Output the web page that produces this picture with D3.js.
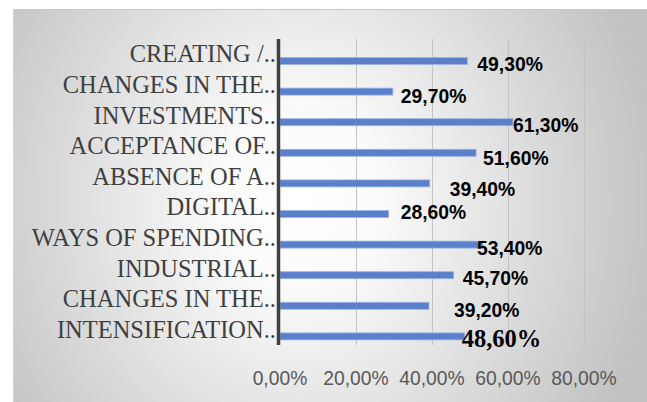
<!DOCTYPE html>
<html>
<head>
<meta charset="utf-8">
<script src="https://cdn.jsdelivr.net/npm/d3@7"></script>
<style>
  html, body { margin: 0; padding: 0; background: #ffffff; }
  svg { display: block; }
</style>
</head>
<body>
<svg id="chart" width="647" height="402"></svg>
<script>
// Survey shares per factor (top to bottom)
const categories = [
  "CREATING /..",
  "CHANGES IN THE..",
  "INVESTMENTS..",
  "ACCEPTANCE OF..",
  "ABSENCE OF A..",
  "DIGITAL..",
  "WAYS OF SPENDING..",
  "INDUSTRIAL..",
  "CHANGES IN THE..",
  "INTENSIFICATION.."
];
const values = [0.493, 0.297, 0.613, 0.516, 0.394, 0.286, 0.534, 0.457, 0.392, 0.486];
const valueLabels = ["49,30%", "29,70%", "61,30%", "51,60%", "39,40%", "28,60%", "53,40%", "45,70%", "39,20%", "48,60%"];
const tickValues = [0, 0.2, 0.4, 0.6, 0.8];
const tickLabels = ["0,00%", "20,00%", "40,00%", "60,00%", "80,00%"];

// Hand-placed data label nudges (dx from bar end, dy from bar centre)
const labelNudge = [
  [10, 3], [8, 4], [0, 3], [7, 5], [20, 6],
  [12, -2], [-6, 3], [9, 3], [25, 4], [-3, 4]
];

const svg = d3.select("#chart");
const W = 647, H = 402;

// Chart area background
const defs = svg.append("defs");
const grad = defs.append("radialGradient")
  .attr("id", "bg")
  .attr("gradientUnits", "userSpaceOnUse")
  .attr("cx", 300).attr("cy", 200).attr("r", 360)
  .attr("gradientTransform", "translate(300,200) scale(1,1.1) translate(-300,-200)");
grad.append("stop").attr("offset", "0%").attr("stop-color", "#ffffff");
grad.append("stop").attr("offset", "22%").attr("stop-color", "#fbfbfb");
grad.append("stop").attr("offset", "100%").attr("stop-color", "#c2c2c2");

svg.append("rect")
  .attr("x", 13).attr("y", 9)
  .attr("width", W - 13).attr("height", H - 9)
  .attr("fill", "url(#bg)");
svg.append("line")
  .attr("x1", 13).attr("x2", W).attr("y1", 9.5).attr("y2", 9.5)
  .attr("stroke", "#c9c9c9").attr("stroke-width", 1);
svg.append("line")
  .attr("x1", 13.5).attr("x2", 13.5).attr("y1", 9).attr("y2", H)
  .attr("stroke", "#d4d4d4").attr("stroke-width", 1);

const plot = { left: 280, right: 584, top: 39, bottom: 345 };

const x = d3.scaleLinear().domain([0, 0.8]).range([plot.left, plot.right]);
const y = d3.scaleBand().domain(d3.range(categories.length))
  .range([plot.top, plot.bottom]).padding(0);

const barH = 7;
const barShift = 6.7; // bars sit slightly below the label centre

// Vertical gridlines
svg.append("g")
  .selectAll("line")
  .data(tickValues.slice(1))
  .join("line")
  .attr("x1", d => x(d) + 0.5).attr("x2", d => x(d) + 0.5)
  .attr("y1", plot.top).attr("y2", plot.bottom)
  .attr("stroke", "#c3c3c3").attr("stroke-width", 1);

// Bars
svg.append("g")
  .selectAll("rect")
  .data(values)
  .join("rect")
  .attr("x", x(0))
  .attr("y", (d, i) => y(i) + y.bandwidth() / 2 + barShift - barH / 2)
  .attr("width", d => x(d) - x(0))
  .attr("height", barH)
  .attr("fill", "#5a7fcb")
  .attr("stroke", "#9db4e0")
  .attr("stroke-width", 0.8);

// Category axis line
svg.append("line")
  .attr("x1", plot.left - 1.5).attr("x2", plot.left - 1.5)
  .attr("y1", plot.top).attr("y2", plot.bottom)
  .attr("stroke", "#404040").attr("stroke-width", 3.5);

// Category labels
svg.append("g")
  .selectAll("text")
  .data(categories)
  .join("text")
  .attr("x", plot.left - 4)
  .attr("y", (d, i) => y(i) + y.bandwidth() / 2 + 8)
  .attr("text-anchor", "end")
  .attr("font-family", "'Liberation Serif', 'Times New Roman', serif")
  .attr("font-size", 24.5)
  .attr("fill", "#3f3f3f")
  .text(d => d);

// Value axis tick labels (narrow sans, condensed horizontally)
svg.append("g")
  .selectAll("text")
  .data(tickValues)
  .join("text")
  .attr("transform", d => `translate(${x(d)},385) scale(0.92,1)`)
  .attr("text-anchor", "middle")
  .attr("font-family", "'Liberation Sans', Arial, sans-serif")
  .attr("font-size", 21)
  .attr("fill", "#595959")
  .text((d, i) => tickLabels[i]);

// Data labels
svg.append("g")
  .selectAll("text")
  .data(values)
  .join("text")
  .attr("transform", (d, i) => {
    const tx = x(d) + labelNudge[i][0];
    const ty = y(i) + y.bandwidth() / 2 + barShift + labelNudge[i][1] + 7;
    return i === values.length - 1
      ? `translate(${tx},${ty})`
      : `translate(${tx},${ty}) scale(0.92,1)`;
  })
  .attr("font-family", (d, i) => i === values.length - 1
    ? "'Liberation Serif', 'Times New Roman', serif"
    : "'Liberation Sans', Arial, sans-serif")
  .attr("font-size", (d, i) => i === values.length - 1 ? 24.5 : 21)
  .attr("font-weight", "bold")
  .attr("fill", "#000000")
  .text((d, i) => valueLabels[i]);
</script>
</body>
</html>
